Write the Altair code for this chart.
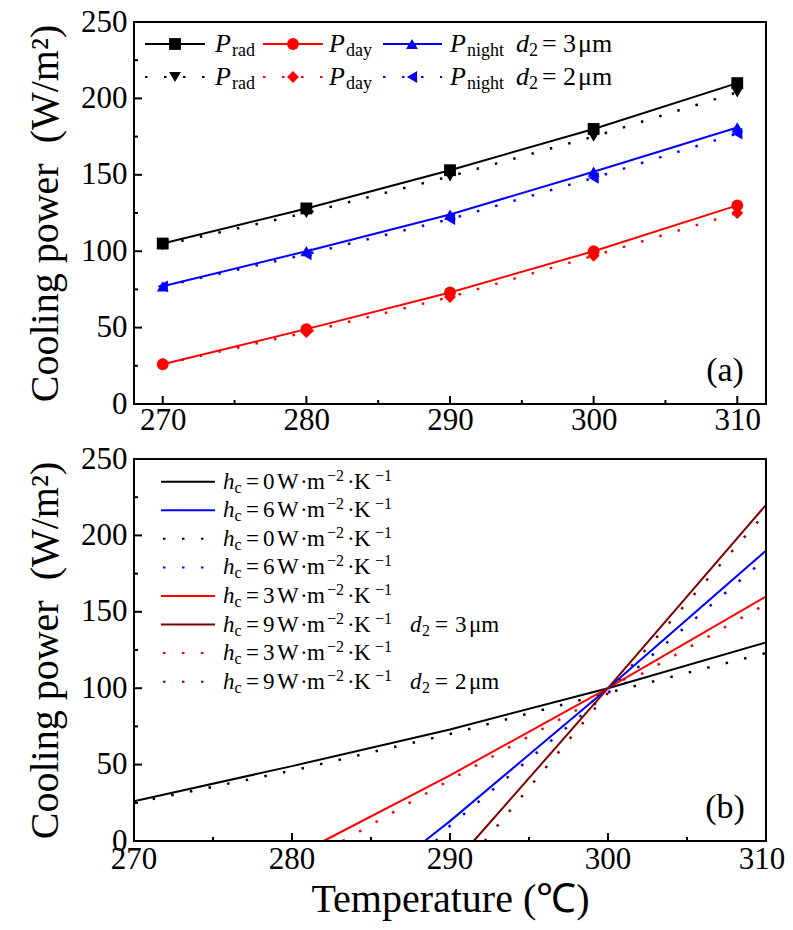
import altair as alt
import pandas as pd

FONT = "Liberation Serif"

# ---------------- Panel (a) values ----------------
temps_a = [270, 280, 290, 300, 310]
prad_d3 = [105, 128, 153, 180, 210]
pday_d3 = [26, 49, 73, 100, 130]
pnight_d3 = [77, 100, 124, 152, 181]
prad_d2 = [104, 125, 149, 175, 204]
pday_d2 = [26, 47, 70, 97, 125]
pnight_d2 = [77, 98, 121, 148, 177]

# ---------------- Panel (b) values ----------------
hc0_d3_T = [270, 280, 290, 300, 310]
hc0_d3_P = [26, 49, 73, 100, 130]
hc3_d3_T = [282.0, 290, 300, 310]
hc3_d3_P = [0, 43, 100, 160]
hc6_d3_T = [288.4, 290, 300, 310]
hc6_d3_P = [0, 13, 100, 190]
hc9_d3_T = [291.5, 300, 310]
hc9_d3_P = [0, 100, 220]
hc0_d2_T = [270, 280, 290, 300, 310]
hc0_d2_P = [25, 46, 70, 97, 123]
hc3_d2_T = [283.2, 290, 300, 310]
hc3_d2_P = [0, 40, 97, 155]
hc6_d2_T = [289.1, 290, 300, 310]
hc6_d2_P = [0, 10, 97, 185]
hc9_d2_T = [292.2, 300, 310]
hc9_d2_P = [0, 97, 215]

x_ticks_a = [270, 280, 290, 300, 310]
x_minor_a = [275, 285, 295, 305]
x_ticks_b = [270, 280, 290, 300, 310]
x_minor_b = [275, 285, 295, 305]
y_ticks = [0, 50, 100, 150, 200, 250]
y_minor = [25, 75, 125, 175, 225]

BLACK, RED, BLUE, DRED = "#000000", "#ff0000", "#0000ff", "#800000"

# ---------------- layout (pixels) ----------------
W = 632          # panel width
PH = 382         # panel height
GAP = 55         # gap between the two panels
TOTAL_H = 2 * PH + GAP
B_TOP = PH + GAP  # top of panel (b) inside the view
UNIT = 250 / PH   # data units per pixel on the y axes
DOT = [2.5, 16.5]
ONE = pd.DataFrame({"k": [0]})
YTITLE = "Cooling power\u2002(W/m\u00b2)"

# y scales: each panel maps 0..250 onto its own strip of the tall view
ys_a = alt.Scale(domain=[250 - TOTAL_H * UNIT, 250], nice=False, zero=False)
ys_b = alt.Scale(domain=[0, TOTAL_H * UNIT], nice=False, zero=False)
xs_a = alt.Scale(domain=[268, 312], nice=False, zero=False)
xs_b = alt.Scale(domain=[270, 310], nice=False, zero=False)


def txt(x, y, s, size, italic=False, color="black", align="left", baseline="alphabetic"):
    return alt.Chart(ONE).mark_text(
        text=s, font=FONT, fontSize=size, fontStyle="italic" if italic else "normal",
        align=align, baseline=baseline, color=color,
    ).encode(x=alt.value(x), y=alt.value(y))


def sample(x1, x2, y, color, dotted):
    kw = {"strokeDash": DOT} if dotted else {}
    return alt.Chart(ONE).mark_rule(color=color, strokeWidth=2, **kw).encode(
        x=alt.value(x1), x2=alt.value(x2), y=alt.value(y))


def marker(x, y, shape, color):
    return alt.Chart(ONE).mark_point(shape=shape, filled=True, size=140, color=color,
                                     opacity=1, strokeWidth=0).encode(x=alt.value(x), y=alt.value(y))


def ticks(X, Y, bottom, xvals_major, xvals_minor):
    out = []
    for vals, L in ((xvals_major, 8), (xvals_minor, 4)):
        out.append(alt.Chart(pd.DataFrame({"T": vals})).mark_rule(color="black", strokeWidth=2).encode(
            x=X, y=alt.value(bottom), y2=alt.value(bottom - L)))
    for vals, L in ((y_ticks, 8), (y_minor, 4)):
        out.append(alt.Chart(pd.DataFrame({"P": vals})).mark_rule(color="black", strokeWidth=2).encode(
            y=Y, x=alt.value(0), x2=alt.value(L)))
    return out


def frame(top, bottom):
    return alt.Chart(ONE).mark_rect(filled=False, stroke="black", strokeWidth=2).encode(
        x=alt.value(0), x2=alt.value(W), y=alt.value(top), y2=alt.value(bottom))


def yaxis(center):
    return alt.Axis(values=y_ticks, format="d", title=YTITLE, orient="left",
                    labelPadding=7, titleFontSize=40, titleX=-89, titleY=center,
                    titleAngle=270, titleAlign="center", titleBaseline="middle")


# ---------------- Panel (a) ----------------
rows = []
for name, vals, color, shape, dotted in [
    ("rad3", prad_d3, BLACK, "square", False),
    ("night3", pnight_d3, BLUE, "triangle-up", False),
    ("day3", pday_d3, RED, "circle", False),
    ("rad2", prad_d2, BLACK, "triangle-down", True),
    ("night2", pnight_d2, BLUE, "triangle-left", True),
    ("day2", pday_d2, RED, "diamond", True),
]:
    for t, p in zip(temps_a, vals):
        rows.append({"T": t, "P": p, "series": name, "color": color, "shape": shape, "dotted": dotted})
df_a = pd.DataFrame(rows)

XA = alt.X("T:Q", scale=xs_a, axis=alt.Axis(values=x_ticks_a, format="d", title=None, orient="bottom",
                                            offset=-(TOTAL_H - PH), labelPadding=1))
YA = alt.Y("P:Q", scale=ys_a, axis=yaxis(PH / 2))

lines_a_solid = alt.Chart(df_a).transform_filter("!datum.dotted").mark_line(strokeWidth=2).encode(
    x=XA, y=YA, color=alt.Color("color:N", scale=None), detail="series:N")
lines_a_dot = alt.Chart(df_a).transform_filter("datum.dotted").mark_line(strokeWidth=2.5, strokeDash=DOT).encode(
    x=XA, y=YA, color=alt.Color("color:N", scale=None), detail="series:N")
pts_a = alt.Chart(df_a).mark_point(filled=True, size=140, opacity=1, strokeWidth=0).encode(
    x=XA, y=YA, color=alt.Color("color:N", scale=None), shape=alt.Shape("shape:N", scale=None))

leg_a = []
row_y = [22, 55]
items_a = [
    (11, 71, 41, BLACK, ("square", "triangle-down"), 81, 98, "rad"),
    (129, 189, 159, RED, ("circle", "diamond"), 195, 212, "day"),
    (249, 308, 278, BLUE, ("triangle-up", "triangle-left"), 316, 333, "night"),
]
for r, yy in enumerate(row_y):
    dotted = r == 1
    for x1, x2, xm, col, shapes, xp, xsub, sub in items_a:
        leg_a.append(sample(x1, x2, yy, col, dotted))
        leg_a.append(marker(xm, yy, shapes[r], col))
        leg_a.append(txt(xp, yy + 8, "P", 26, italic=True))
        leg_a.append(txt(xsub, yy + 12, sub, 18))
    leg_a.append(txt(382, yy + 8, "d", 26, italic=True))
    leg_a.append(txt(395, yy + 12, "2", 18))
    leg_a.append(txt(408, yy + 8, "=", 26))
    leg_a.append(txt(429, yy + 8, "3" if r == 0 else "2", 26))
    leg_a.append(txt(444, yy + 8, "\u03bcm", 26))
leg_a.append(txt(591, 349, "(a)", 34, align="center", baseline="middle"))

layer_a = alt.layer(lines_a_dot, lines_a_solid, pts_a, *ticks(XA, YA, PH, x_ticks_a, x_minor_a), *leg_a)

# ---------------- Panel (b) ----------------
rows = []
for name, Ts, Ps, color, dotted in [
    ("h0_3", hc0_d3_T, hc0_d3_P, BLACK, False),
    ("h3_3", hc3_d3_T, hc3_d3_P, RED, False),
    ("h6_3", hc6_d3_T, hc6_d3_P, BLUE, False),
    ("h9_3", hc9_d3_T, hc9_d3_P, DRED, False),
    ("h0_2", hc0_d2_T, hc0_d2_P, BLACK, True),
    ("h3_2", hc3_d2_T, hc3_d2_P, RED, True),
    ("h6_2", hc6_d2_T, hc6_d2_P, BLUE, True),
    ("h9_2", hc9_d2_T, hc9_d2_P, DRED, True),
]:
    for t, p in zip(Ts, Ps):
        rows.append({"T": t, "P": p, "series": name, "color": color, "dotted": dotted})
df_b = pd.DataFrame(rows)

XB = alt.X("T:Q", scale=xs_b, axis=alt.Axis(
    values=x_ticks_b, labels=False, title="Temperature (\u2103)", orient="bottom",
    titleFontSize=40, titleX=W / 2, titleY=58, titleAlign="center", titleBaseline="middle"))
YB = alt.Y("P:Q", scale=ys_b, axis=yaxis(B_TOP + PH / 2))

lines_b_dot = alt.Chart(df_b).transform_filter("datum.dotted").mark_line(
    strokeWidth=2.5, strokeDash=DOT).encode(
    x=XB, y=YB, color=alt.Color("color:N", scale=None), detail="series:N")
lines_b_solid = alt.Chart(df_b).transform_filter("!datum.dotted").mark_line(strokeWidth=2).encode(
    x=XB, y=YB, color=alt.Color("color:N", scale=None), detail="series:N")

# x tick labels of panel (b), placed through the panel's x scale (last one nudged to stay on the page)
xlab_b = pd.DataFrame({"T": x_ticks_b, "label": [str(v) for v in x_ticks_b]})
xlabels_b = [
    alt.Chart(xlab_b).transform_filter(f"datum.T {op} {x_ticks_b[-1]}").mark_text(
        font=FONT, fontSize=31, baseline="top", align="center", color="black", dx=dx).encode(
        x=XB, y=alt.value(TOTAL_H + 4), text="label:N")
    for op, dx in (("<", 0), ("==", -4))
]

leg_b = []
items_b = [
    ("0", BLACK, False, None), ("6", BLUE, False, None), ("0", BLACK, True, None), ("6", BLUE, True, None),
    ("3", RED, False, None), ("9", DRED, False, "3"), ("3", RED, True, None), ("9", DRED, True, "2"),
]
for i, (hv, col, dotted, d2) in enumerate(items_b):
    yy = B_TOP + 22.7 + 28.57 * i
    leg_b.append(sample(27 if not dotted else 29, 81, yy, col, dotted))
    b = yy + 7
    leg_b.append(txt(89, b, "h", 23, italic=True))
    leg_b.append(txt(100.5, b + 4, "c", 16))
    leg_b.append(txt(112, b, "=", 23))
    leg_b.append(txt(129, b, hv, 23))
    leg_b.append(txt(143, b, "W", 23))
    leg_b.append(txt(166, b, "\u00b7", 23))
    leg_b.append(txt(173, b, "m", 23))
    leg_b.append(txt(193, b - 8, "\u22122", 16))
    leg_b.append(txt(213, b, "\u00b7", 23))
    leg_b.append(txt(220, b, "K", 23))
    leg_b.append(txt(241, b - 8, "\u22121", 16))
    if d2:
        leg_b.append(txt(276, b, "d", 23, italic=True))
        leg_b.append(txt(288, b + 4, "2", 16))
        leg_b.append(txt(301, b, "=", 23))
        leg_b.append(txt(321, b, d2, 23))
        leg_b.append(txt(335, b, "\u03bcm", 23))
leg_b.append(txt(591, B_TOP + 349, "(b)", 34, align="center", baseline="middle"))

layer_b = alt.layer(lines_b_dot, lines_b_solid, *ticks(XB, YB, TOTAL_H, x_ticks_b, x_minor_b),
                    *xlabels_b, *leg_b)

chart = alt.layer(layer_a, layer_b, frame(0, PH), frame(B_TOP, TOTAL_H)).resolve_scale(
    x="independent", y="independent"
).properties(
    width=W, height=TOTAL_H,
    autosize=alt.AutoSizeParams(type="none"),
    padding={"left": 126, "top": 14, "right": 19, "bottom": 80},
    background="white",
).configure_view(stroke=None).configure_axis(
    grid=False, ticks=False, domain=False,
    labelFont=FONT, labelFontSize=31, labelColor="black", labelFlush=False, labelOverlap=False,
    titleFont=FONT, titleFontWeight="normal", titleColor="black",
)

chart.save("out.html", embed_options={"renderer": "svg", "actions": False})
